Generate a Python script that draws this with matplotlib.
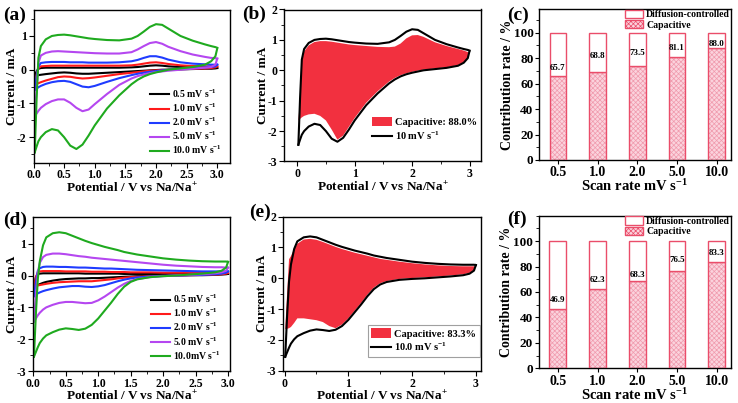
import numpy as np
import matplotlib
matplotlib.use("Agg")
import matplotlib.pyplot as plt
from matplotlib.patches import Patch
from matplotlib.lines import Line2D
from matplotlib.ticker import MultipleLocator

plt.rcParams.update({
    "font.family": "serif",
    "font.serif": ["Liberation Serif", "DejaVu Serif"],
    "font.weight": "bold",
    "axes.labelweight": "bold",
    "axes.unicode_minus": False,
    "mathtext.fontset": "custom",
    "mathtext.rm": "Liberation Serif:bold",
    "mathtext.it": "Liberation Serif:bold:italic",
    "mathtext.bf": "Liberation Serif:bold",
    "hatch.linewidth": 0.5,
    "axes.linewidth": 1.0,
})

# ---- sample 1 CV curves, panels (a) and (b) ----
pot1 = [0.02, 0.05, 0.08, 0.12,
        0.2, 0.3, 0.4, 0.5, 0.6, 0.7, 0.8, 0.9, 1.0,
        1.2, 1.4, 1.6,
        1.7, 1.8, 1.9, 2.0, 2.1, 2.2,
        2.4, 2.6, 2.8,
        2.9, 2.97, 3.0]

a_black_up = [-0.18, -0.05, 0.03, 0.05,
              0.06, 0.06, 0.06, 0.06, 0.06, 0.06, 0.06, 0.06, 0.06,
              0.06, 0.06, 0.07,
              0.08, 0.1, 0.12, 0.13, 0.12, 0.1,
              0.08, 0.07, 0.06,
              0.05, 0.05, 0.05]
a_black_dn = [-0.18, -0.17, -0.16, -0.15,
              -0.13, -0.11, -0.09, -0.08, -0.09, -0.11, -0.12, -0.12, -0.11,
              -0.09, -0.07, -0.05,
              -0.04, -0.03, -0.02, -0.01, 0.0, 0.0,
              0.01, 0.02, 0.03,
              0.03, 0.04, 0.05]
a_red_up = [-0.45, -0.15, 0.05, 0.1,
            0.11, 0.12, 0.12, 0.12, 0.12, 0.12, 0.12, 0.12, 0.12,
            0.12, 0.12, 0.13,
            0.15, 0.18, 0.21, 0.22, 0.2, 0.17,
            0.13, 0.11, 0.1,
            0.1, 0.1, 0.1]
a_red_dn = [-0.45, -0.42, -0.4, -0.37,
            -0.32, -0.27, -0.22, -0.2, -0.21, -0.24, -0.26, -0.25, -0.23,
            -0.18, -0.13, -0.09,
            -0.07, -0.05, -0.03, -0.02, -0.01, 0.0,
            0.02, 0.03, 0.04,
            0.05, 0.07, 0.1]
a_blue_up = [-0.6, -0.2, 0.1, 0.2,
             0.22, 0.23, 0.23, 0.23, 0.22, 0.22, 0.22, 0.21, 0.21,
             0.21, 0.22, 0.25,
             0.29, 0.35, 0.4, 0.4, 0.36, 0.3,
             0.22, 0.18, 0.16,
             0.15, 0.15, 0.15]
a_blue_dn = [-0.6, -0.56, -0.52, -0.48,
             -0.42, -0.37, -0.34, -0.33, -0.36, -0.43, -0.5, -0.52, -0.48,
             -0.36, -0.25, -0.16,
             -0.12, -0.09, -0.06, -0.04, -0.02, 0.0,
             0.03, 0.05, 0.07,
             0.08, 0.1, 0.15]
a_purple_up = [-1.38, -0.6, 0.2, 0.42,
               0.5, 0.54, 0.55, 0.54, 0.53, 0.52, 0.51, 0.5, 0.49,
               0.48, 0.48, 0.52,
               0.6, 0.7, 0.79, 0.82, 0.77, 0.68,
               0.55, 0.45, 0.38,
               0.35, 0.34, 0.33]
a_purple_dn = [-1.38, -1.3, -1.22, -1.13,
               -1.02, -0.93, -0.88, -0.88, -0.98, -1.13, -1.23, -1.18, -1.02,
               -0.72, -0.45, -0.26,
               -0.19, -0.14, -0.1, -0.07, -0.05, -0.03,
               0.0, 0.03, 0.06,
               0.08, 0.15, 0.33]
a_green_up = [-2.45, -0.9, 0.35, 0.7,
              0.9, 1.0, 1.03, 1.04, 1.02, 0.99, 0.96, 0.93, 0.91,
              0.88, 0.87, 0.92,
              1.0, 1.13, 1.27, 1.35, 1.33, 1.22,
              1.0, 0.86, 0.75,
              0.7, 0.67, 0.65]
a_green_dn = [-2.45, -2.28, -2.12, -2.0,
              -1.85, -1.76, -1.8, -2.0, -2.25, -2.35, -2.22, -1.95, -1.65,
              -1.15, -0.76, -0.43,
              -0.3, -0.2, -0.13, -0.08, -0.04, 0.0,
              0.04, 0.08, 0.15,
              0.25, 0.4, 0.63]
b_cap_up = [-1.65, -0.95, 0.3, 0.62,
            0.82, 0.93, 0.96, 0.96, 0.94, 0.91, 0.88, 0.85, 0.83,
            0.8, 0.77, 0.76,
            0.78, 0.88, 1.05, 1.15, 1.16, 1.1,
            0.92, 0.8, 0.7,
            0.65, 0.6, 0.57]
b_cap_dn = [-1.65, -1.6, -1.55, -1.5,
            -1.45, -1.43, -1.5, -1.65, -1.95, -2.28, -2.15, -1.86, -1.57,
            -1.07, -0.69, -0.37,
            -0.25, -0.16, -0.1, -0.05, -0.01, 0.02,
            0.06, 0.1, 0.17,
            0.27, 0.42, 0.57]

# ---- sample 2 CV curves, panels (d) and (e) ----
pot2 = [0.01, 0.04, 0.07, 0.1, 0.15, 0.2,
        0.3, 0.4, 0.5, 0.6, 0.7, 0.8, 0.9, 1.0, 1.1, 1.2, 1.3, 1.4, 1.5, 1.6,
        1.8, 2.0, 2.2, 2.4, 2.6, 2.8,
        2.9, 2.97, 3.0]

d_black_up = [-0.38, -0.05, 0.05, 0.06, 0.07, 0.07,
              0.07, 0.07, 0.07, 0.07, 0.07, 0.06, 0.06, 0.06, 0.06, 0.06, 0.06, 0.05, 0.05, 0.05,
              0.05, 0.05, 0.05, 0.05, 0.05, 0.05,
              0.05, 0.05, 0.05]
d_black_dn = [-0.38, -0.34, -0.3, -0.27, -0.23, -0.2,
              -0.16, -0.13, -0.11, -0.1, -0.09, -0.09, -0.08, -0.08, -0.07, -0.06, -0.05, -0.04, -0.03, -0.02,
              -0.01, 0.0, 0.0, 0.01, 0.01, 0.02,
              0.03, 0.04, 0.05]
d_red_up = [-0.35, -0.05, 0.1, 0.13, 0.14, 0.14,
            0.14, 0.14, 0.13, 0.13, 0.13, 0.13, 0.12, 0.12, 0.12, 0.11, 0.11, 0.11, 0.1, 0.1,
            0.1, 0.09, 0.09, 0.09, 0.08, 0.08,
            0.08, 0.08, 0.08]
d_red_dn = [-0.35, -0.33, -0.31, -0.3, -0.28, -0.26,
            -0.23, -0.21, -0.2, -0.19, -0.18, -0.18, -0.18, -0.16, -0.14, -0.12, -0.09, -0.07, -0.05, -0.04,
            -0.02, -0.01, 0.0, 0.01, 0.02, 0.03,
            0.04, 0.06, 0.08]
d_blue_up = [-0.65, -0.2, 0.15, 0.23, 0.27, 0.28,
             0.28, 0.27, 0.27, 0.26, 0.25, 0.25, 0.24, 0.23, 0.22, 0.22, 0.21, 0.2, 0.19, 0.18,
             0.17, 0.16, 0.15, 0.14, 0.13, 0.13,
             0.13, 0.13, 0.13]
d_blue_dn = [-0.65, -0.6, -0.56, -0.53, -0.49, -0.46,
             -0.41, -0.37, -0.35, -0.33, -0.33, -0.35, -0.36, -0.34, -0.3, -0.24, -0.18, -0.13, -0.09, -0.06,
             -0.03, -0.01, 0.0, 0.01, 0.02, 0.04,
             0.06, 0.09, 0.13]
d_purple_up = [-1.45, -0.6, 0.1, 0.4, 0.58, 0.65,
               0.69, 0.69, 0.67, 0.64, 0.61, 0.59, 0.56, 0.54, 0.52, 0.5, 0.48, 0.46, 0.44, 0.42,
               0.38, 0.34, 0.31, 0.29, 0.27, 0.26,
               0.26, 0.25, 0.25]
d_purple_dn = [-1.45, -1.35, -1.25, -1.17, -1.07, -1.0,
               -0.92, -0.86, -0.83, -0.83, -0.85, -0.87, -0.86, -0.78, -0.66, -0.52, -0.38, -0.26, -0.17, -0.11,
               -0.05, -0.02, 0.0, 0.02, 0.04, 0.07,
               0.1, 0.15, 0.25]
d_green_up = [-2.55, -1.2, -0.1, 0.45, 0.95, 1.2,
              1.33, 1.36, 1.33, 1.25, 1.17, 1.09, 1.02, 0.96, 0.9, 0.85, 0.8, 0.74, 0.7, 0.66,
              0.6, 0.54, 0.5, 0.47, 0.45, 0.44,
              0.44, 0.44, 0.43]
d_green_dn = [-2.55, -2.4, -2.25, -2.12, -1.98, -1.88,
              -1.78, -1.7, -1.66, -1.68, -1.71, -1.67, -1.55, -1.35, -1.1, -0.85, -0.58, -0.35, -0.2, -0.12,
              -0.05, -0.02, 0.0, 0.03, 0.06, 0.1,
              0.15, 0.25, 0.43]
e_cap_up = [-1.65, -0.5, 0.62, 0.72, 0.95, 1.12,
            1.26, 1.28, 1.25, 1.18, 1.1, 1.02, 0.95, 0.89, 0.83, 0.78, 0.73, 0.68, 0.63, 0.6,
            0.54, 0.49, 0.45, 0.42, 0.4, 0.39,
            0.39, 0.39, 0.38]
e_cap_dn = [-1.65, -1.64, -1.62, -1.58, -1.45, -1.3,
            -1.3, -1.33, -1.36, -1.42, -1.55, -1.62, -1.5, -1.3, -1.05, -0.8, -0.53, -0.3, -0.16, -0.09,
            -0.02, 0.01, 0.03, 0.06, 0.09, 0.13,
            0.18, 0.27, 0.38]

# ---- contribution bars, panels (c) and (f) ----
scan_rates = ["0.5", "1.0", "2.0", "5.0", "10.0"]
cap_c = [65.7, 68.8, 73.5, 81.1, 88.0]
cap_f = [46.9, 62.3, 68.3, 76.5, 83.3]
label_y_c = [72, 82, 84.3, 88, 91.4]
label_y_f = [53.7, 69.4, 73.3, 85, 90.3]

rate_labels = ["0.5 mV s$^{-1}$", "1.0 mV s$^{-1}$", "2.0 mV s$^{-1}$",
               "5.0 mV s$^{-1}$", "10.0 mV s$^{-1}$"]
rate_labels_d = rate_labels[:4] + ["10.0mV s$^{-1}$"]
cv_colors = ["black", "#ff1a1a", "#1f3cff", "#b547f0", "#1faa1f"]
fill_red = "#f2303f"
bar_edge = "#ea4d6a"
bar_face = "#fbd3dd"
hatch_col = "#f09aad"

W, H = 738, 403
fig = plt.figure(figsize=(W / 100, H / 100), dpi=100)


def add_ax(left, right, top, bottom):
    return fig.add_axes([left / W, 1 - bottom / H, (right - left) / W, (bottom - top) / H])


def style_cv(ax, xlim, ylim, xmaj, xmin):
    ax.set_xlim(*xlim)
    ax.set_ylim(*ylim)
    ax.xaxis.set_major_locator(MultipleLocator(xmaj))
    ax.xaxis.set_minor_locator(MultipleLocator(xmin))
    ax.yaxis.set_major_locator(MultipleLocator(1))
    ax.yaxis.set_minor_locator(MultipleLocator(0.5))
    ax.tick_params(which="major", direction="out", length=3.5, width=0.8, labelsize=8.5, pad=1.5)
    ax.tick_params(which="minor", direction="out", length=2, width=0.6)
    ax.set_xlabel("Potential / V vs Na/Na$^{+}$", fontsize=9.5, labelpad=0)
    ax.set_ylabel("Current / mA", fontsize=9.5, labelpad=-1)


def cv_panel(ax, pot, ups, dns, labels, anchor):
    for up, dn, c, lab in zip(ups, dns, cv_colors, labels):
        ax.plot(pot, up, color=c, lw=1.5, label=lab)
        ax.plot(pot, dn, color=c, lw=1.5)
    ax.legend(loc="lower right", bbox_to_anchor=anchor, frameon=False,
              fontsize=7, handlelength=2.0, labelspacing=0.18, handletextpad=0.25,
              borderaxespad=0.0, borderpad=0.0)


def cap_panel(ax, pot, up, dn, cup, cdn, pct, rate, framed, anchor):
    poly_x = list(pot) + list(pot[::-1])
    poly_y = list(cup) + list(cdn[::-1])
    ax.fill(poly_x, poly_y, color=fill_red, lw=0, zorder=1)
    ax.plot(pot, up, color="black", lw=1.5, zorder=3)
    ax.plot(pot, dn, color="black", lw=1.5, zorder=3)
    handles = [Patch(facecolor=fill_red, edgecolor="none"),
               Line2D([], [], color="black", lw=1.5)]
    leg = ax.legend(handles, ["Capacitive: %s" % pct, rate], loc="lower right",
                    bbox_to_anchor=anchor, frameon=framed, fancybox=False, fontsize=7.5,
                    handlelength=1.9, handleheight=1.0, labelspacing=0.2,
                    handletextpad=0.3, borderaxespad=0.0,
                    borderpad=0.35 if framed else 0.0)
    if framed:
        leg.get_frame().set_edgecolor("#888888")
        leg.get_frame().set_linewidth(0.8)


def bar_panel(ax, cap, label_y, ymax):
    x = np.arange(len(scan_rates))
    cap = np.array(cap)
    w = 0.42
    ax.bar(x, cap, w, color=bar_face, edgecolor=hatch_col, hatch="xxxxxxx", linewidth=0, zorder=2)
    ax.bar(x, cap, w, facecolor="none", edgecolor=bar_edge, linewidth=1.0, zorder=3)
    ax.bar(x, 100 - cap, w, bottom=cap, facecolor="white", edgecolor=bar_edge, linewidth=1.0, zorder=3)
    for xi, ci, yi in zip(x, cap, label_y):
        ax.text(xi, yi, "%.1f" % ci, ha="center", va="center", fontsize=6.5, zorder=4)
    ax.set_xlim(-0.48, 4.36)
    ax.set_ylim(0, ymax)
    ax.set_xticks(x)
    ax.set_xticklabels(scan_rates)
    ax.yaxis.set_minor_locator(MultipleLocator(10))
    ax.set_yticks([0, 20, 40, 60, 80, 100])
    ax.tick_params(axis="x", which="major", direction="out", length=3, width=0.8, labelsize=10, pad=1.5)
    ax.tick_params(axis="y", which="major", direction="out", length=3, width=0.8, labelsize=9.5, pad=1)
    ax.tick_params(which="minor", direction="out", length=2, width=0.6)
    ax.set_xlabel("Scan rate mV s$^{-1}$", fontsize=10.5, labelpad=-0.5)
    ax.set_ylabel("Contribution rate / %", fontsize=10, labelpad=0)
    handles = [Patch(facecolor="white", edgecolor=bar_edge, lw=1.0),
               Patch(facecolor=bar_face, edgecolor=bar_edge, hatch="xxxxxxx", lw=1.0)]
    ax.legend(handles, ["Diffusion-controlled", "Capacitive"], loc="upper right",
              bbox_to_anchor=(0.995, 0.995), frameon=False, fontsize=7, handlelength=1.9,
              handleheight=0.9, labelspacing=0.1, handletextpad=0.3,
              borderaxespad=0.0, borderpad=0.0)


# (a)
ax_a = add_ax(33.5, 229.5, 10, 162.5)
cv_panel(ax_a, pot1,
         [a_black_up, a_red_up, a_blue_up, a_purple_up, a_green_up],
         [a_black_dn, a_red_dn, a_blue_dn, a_purple_dn, a_green_dn], rate_labels,
         (0.96, 0.04))
style_cv(ax_a, (0, 3.2), (-2.75, 1.77), 0.5, 0.25)

# (b)
ax_b = add_ax(284, 481, 9.5, 161.5)
cap_panel(ax_b, pot1, a_green_up, a_green_dn, b_cap_up, b_cap_dn, "88.0%",
          "10 mV s$^{-1}$", False, (0.98, 0.13))
style_cv(ax_b, (-0.23, 3.2), (-3, 2), 1, 0.5)

# (c)
ax_c = add_ax(539, 731, 9, 160)
bar_panel(ax_c, cap_c, label_y_c, 118.5)

# (d)
ax_d = add_ax(33.3, 230, 217.3, 371)
cv_panel(ax_d, pot2,
         [d_black_up, d_red_up, d_blue_up, d_purple_up, d_green_up],
         [d_black_dn, d_red_dn, d_blue_dn, d_purple_dn, d_green_dn], rate_labels_d,
         (0.95, 0.06))
style_cv(ax_d, (0, 3.03), (-3, 1.83), 0.5, 0.25)

# (e)
ax_e = add_ax(283.3, 481, 216.7, 370.7)
cap_panel(ax_e, pot2, d_green_up, d_green_dn, e_cap_up, e_cap_dn, "83.3%",
          "10.0 mV s$^{-1}$", True, (0.995, 0.09))
style_cv(ax_e, (-0.02, 3.08), (-3, 2), 1, 0.5)

# (f)
ax_f = add_ax(538.7, 731, 215.7, 368.3)
bar_panel(ax_f, cap_f, label_y_f, 120)

for lab, px, py in [("(a)", 3, 15), ("(b)", 242, 14), ("(c)", 507, 15),
                    ("(d)", 3, 220), ("(e)", 249, 212), ("(f)", 507, 219)]:
    fig.text(px / W, 1 - py / H, lab, fontsize=14, fontweight="bold", ha="left", va="center")

fig.savefig("out.png", dpi=100)
